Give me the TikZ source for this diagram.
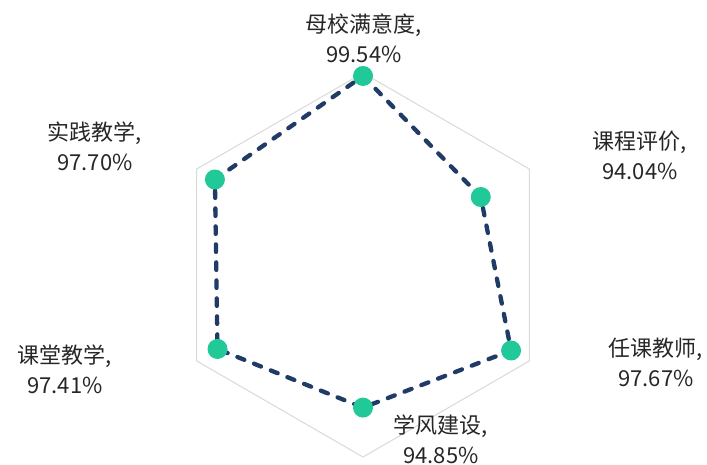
\documentclass[tikz,border=0pt]{standalone}
\usepackage{fontspec}
\usepackage{xcolor}
\usepackage{tikz}
\newfontfamily\cjk{Noto Sans CJK SC}
\definecolor{gridgray}{HTML}{D9D9D9}
\definecolor{linenavy}{HTML}{1F3B66}
\definecolor{dotgreen}{HTML}{20C997}
\tikzset{
    grid/.style={draw=gridgray, line width=1pt},
    series/.style={draw=linenavy, line width=4.3pt, line cap=round, dash pattern=on 7.5pt off 10.5pt},
    dot/.style={circle, fill=dotgreen, inner sep=0pt, minimum size=20pt},
    axislabel/.style={font=\cjk\fontsize{22}{30}\selectfont, align=center, text=black!85}
}
\begin{document}
\begin{tikzpicture}[x=1pt, y=1pt]
\useasboundingbox (0,0) rectangle (707,465);

% Centre of the radar chart
\coordinate (o) at (363,200);

% Outer hexagon
\draw[grid] ([shift={(90:192)}]o) -- ([shift={(30:192)}]o) -- ([shift={(-30:192)}]o)
    -- ([shift={(-90:192)}]o) -- ([shift={(-150:192)}]o) -- ([shift={(150:192)}]o) -- cycle;

% Data points, radius = 9.6*(value-80)
\coordinate (p1) at ([shift={(90:189)}]o);
\coordinate (p2) at ([shift={(30:136)}]o);
\coordinate (p3) at ([shift={(-30:171)}]o);
\coordinate (p4) at ([shift={(-90:142.6)}]o);
\coordinate (p5) at ([shift={(-150:168)}]o);
\coordinate (p6) at ([shift={(150:171)}]o);

% Series line
\draw[series] (p1) -- (p2) -- (p3) -- (p4) -- (p5) -- (p6) -- cycle;

% Markers
\node[dot] (d1) at (p1) {};
\node[dot] (d2) at (p2) {};
\node[dot] (d3) at (p3) {};
\node[dot] (d4) at (p4) {};
\node[dot] (d5) at (p5) {};
\node[dot] (d6) at (p6) {};

% Labels
\node[axislabel] (l1) at (364,427) {母校满意度,\\99.54\%};
\node[axislabel] (l2) at (640,310) {课程评价,\\94.04\%};
\node[axislabel] (l3) at (656,103) {任课教师,\\97.67\%};
\node[axislabel] (l4) at (441,26) {学风建设,\\94.85\%};
\node[axislabel] (l5) at (65,96) {课堂教学,\\97.41\%};
\node[axislabel] (l6) at (95,319) {实践教学,\\97.70\%};
\end{tikzpicture}
\end{document}
